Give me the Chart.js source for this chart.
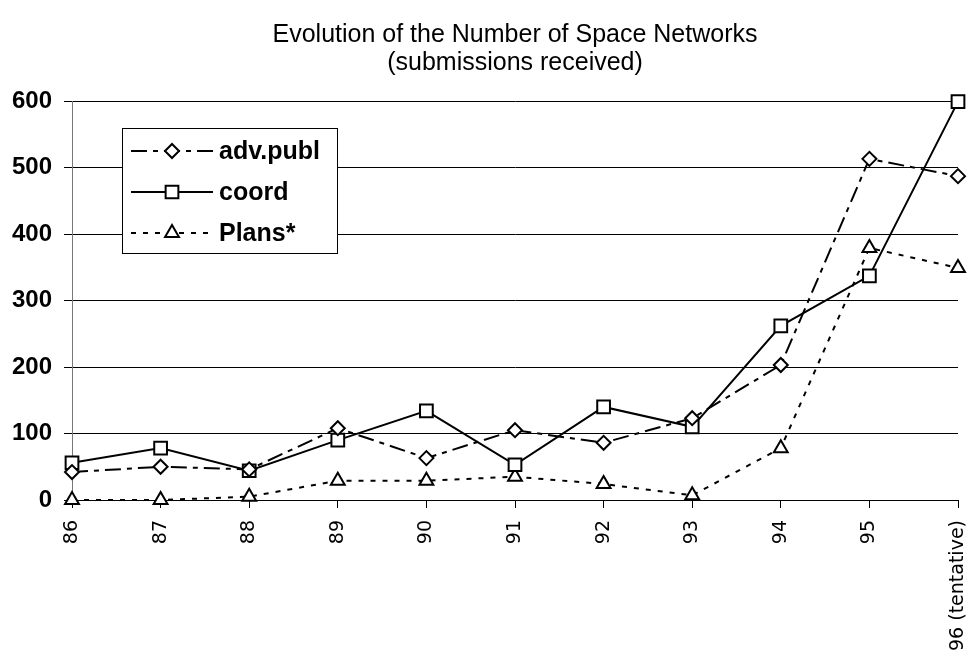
<!DOCTYPE html>
<html>
<head>
<meta charset="utf-8">
<script src="https://cdn.jsdelivr.net/npm/chart.js@4/dist/chart.umd.min.js"></script>
<style>
  html, body { margin: 0; padding: 0; background: #fff; }
  #chart { display: block; }
</style>
</head>
<body>
<canvas id="chart" width="970" height="659"></canvas>
<script>
const years = ['86', '87', '88', '89', '90', '91', '92', '93', '94', '95', '96 (tentative)'];
const advPubl = [42, 50, 46, 108, 63, 105, 86, 123, 203, 513, 487];
const coord = [56, 78, 44, 90, 134, 53, 140, 110, 262, 337, 599];
const plans = [0, 0, 5, 29, 29, 35, 24, 7, 78, 379, 349];
const titleLines = ['Evolution of the Number of Space Networks', '(submissions received)'];

// title centred over the plot area, not over the canvas
const titlePlugin = {
  id: 'plotTitle',
  afterDraw(chart) {
    const ctx = chart.ctx;
    const area = chart.chartArea;
    const cx = (area.left + area.right) / 2;
    ctx.save();
    ctx.fillStyle = '#000';
    ctx.font = '25px "Liberation Sans", Arial, sans-serif';
    ctx.textAlign = 'center';
    ctx.textBaseline = 'middle';
    ctx.fillText(titleLines[0], cx, 35);
    ctx.fillText(titleLines[1], cx, 63);
    ctx.restore();
  }
};

// boxed legend with line + marker samples, inside the plot
const legendPlugin = {
  id: 'boxLegend',
  afterDraw(chart) {
    const ctx = chart.ctx;
    const box = { x: 122, y: 128, w: 215, h: 125 };
    ctx.save();
    ctx.fillStyle = '#fff';
    ctx.fillRect(box.x, box.y, box.w, box.h);
    ctx.strokeStyle = '#000';
    ctx.lineWidth = 1;
    ctx.strokeRect(box.x + 0.5, box.y + 0.5, box.w, box.h);
    chart.data.datasets.forEach((ds, i) => {
      const y = 151 + i * 41;
      ctx.beginPath();
      ctx.setLineDash(ds.borderDash || []);
      ctx.lineWidth = ds.borderWidth;
      ctx.strokeStyle = '#000';
      ctx.moveTo(131, y);
      ctx.lineTo(213, y);
      ctx.stroke();
      ctx.setLineDash([]);
      ctx.fillStyle = '#fff';
      ctx.lineWidth = ds.pointBorderWidth;
      Chart.helpers.drawPoint(ctx, {
        pointStyle: ds.pointStyle,
        radius: ds.pointRadius,
        rotation: 0,
        borderWidth: ds.pointBorderWidth
      }, 172, y);
      ctx.fillStyle = '#000';
      ctx.font = 'bold 25px "Liberation Sans", Arial, sans-serif';
      ctx.textAlign = 'left';
      ctx.textBaseline = 'middle';
      ctx.fillText(ds.label, 219, y + 1);
    });
    ctx.restore();
  }
};

const common = {
  borderColor: '#000',
  borderWidth: 2,
  pointBackgroundColor: '#fff',
  pointBorderColor: '#000',
  pointBorderWidth: 2,
  pointHoverRadius: 8,
  tension: 0,
  fill: false,
  clip: false
};

new Chart(document.getElementById('chart').getContext('2d'), {
  type: 'line',
  data: {
    labels: years,
    datasets: [
      Object.assign({}, common, {
        label: 'adv.publ',
        data: advPubl,
        borderDash: [16, 6, 5, 6],
        pointStyle: 'rectRot',
        pointRadius: 7
      }),
      Object.assign({}, common, {
        label: 'coord',
        data: coord,
        pointStyle: 'rect',
        pointRadius: 9
      }),
      Object.assign({}, common, {
        label: 'Plans*',
        data: plans,
        borderDash: [5, 7],
        pointStyle: 'triangle',
        pointRadius: 8
      })
    ]
  },
  options: {
    responsive: false,
    animation: false,
    devicePixelRatio: 1,
    layout: { padding: { top: 101, right: 12, left: 0, bottom: 0 } },
    plugins: {
      legend: { display: false },
      title: { display: false },
      tooltip: { enabled: false }
    },
    scales: {
      x: {
        offset: false,
        afterFit(scale) {
          scale.height = 159;
          scale.paddingLeft = 0;
          scale.paddingRight = 0;
        },
        grid: { drawOnChartArea: false, drawTicks: true, tickLength: 8, color: '#000' },
        border: { color: '#000' },
        ticks: {
          autoSkip: false,
          maxRotation: 90,
          minRotation: 90,
          padding: 12,
          color: '#000',
          // style slot carries the font-stretch keyword into the canvas font string
          font: { family: '"DejaVu Sans", sans-serif', style: 'condensed', size: 19 }
        }
      },
      y: {
        min: 0,
        max: 600,
        afterFit(scale) { scale.width = 72; },
        grid: { color: '#000', lineWidth: 1, tickLength: 8 },
        border: { color: '#777' },
        ticks: {
          stepSize: 100,
          padding: 12,
          color: '#000',
          font: { family: '"Liberation Sans", Arial, sans-serif', size: 24, weight: 'bold' }
        }
      }
    }
  },
  plugins: [titlePlugin, legendPlugin]
});
</script>
</body>
</html>
